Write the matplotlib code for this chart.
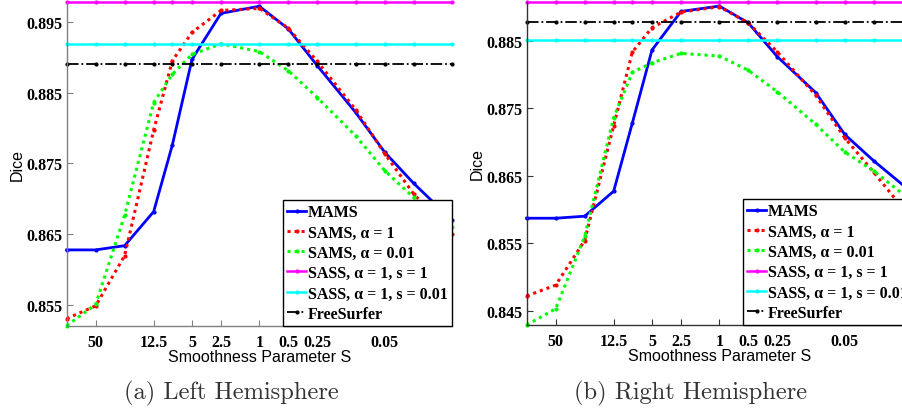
import numpy as np
import matplotlib
matplotlib.use("Agg")
import matplotlib.pyplot as plt

# smoothness values S (x axis, log, reversed)
s_vals = [100, 50, 25, 12.5, 8, 5, 2.5, 1, 0.5, 0.25, 0.1, 0.05, 0.025, 0.01]
xtick_vals = [50, 12.5, 5, 2.5, 1, 0.5, 0.25, 0.05]
xtick_labels = ["50", "12.5", "5", "2.5", "1", "0.5", "0.25", "0.05"]

# left hemisphere
left_mams = [0.8628, 0.8628, 0.8634, 0.8682, 0.8776, 0.8897, 0.8962, 0.8972,
             0.8940, 0.8888, 0.8822, 0.8766, 0.8722, 0.8670]
left_sams_1 = [0.8531, 0.8549, 0.8620, 0.8797, 0.8895, 0.8935, 0.8966, 0.8969,
               0.8941, 0.8894, 0.8826, 0.8764, 0.8707, 0.8650]
left_sams_001 = [0.8521, 0.8551, 0.8677, 0.8836, 0.8876, 0.8904, 0.8919, 0.8908,
                 0.8881, 0.8843, 0.8789, 0.8740, 0.8702, 0.8660]
left_sass_1 = 0.8978
left_sass_001 = 0.8918
left_fs = 0.8890
left_yticks = [0.855, 0.865, 0.875, 0.885, 0.895]

# right hemisphere
right_mams = [0.8587, 0.8587, 0.8590, 0.8627, 0.8728, 0.8836, 0.8893, 0.8901,
              0.8876, 0.8826, 0.8773, 0.8711, 0.8672, 0.8625]
right_sams_1 = [0.8472, 0.8488, 0.8554, 0.8724, 0.8833, 0.8869, 0.8892, 0.8900,
                0.8876, 0.8833, 0.8769, 0.8706, 0.8655, 0.8585]
right_sams_001 = [0.8429, 0.8453, 0.8560, 0.8736, 0.8803, 0.8817, 0.8831, 0.8827,
                  0.8806, 0.8774, 0.8726, 0.8685, 0.8657, 0.8612]
right_sass_1 = 0.8907
right_sass_001 = 0.8851
right_fs = 0.8877
right_yticks = [0.845, 0.855, 0.865, 0.875, 0.885]

labels = ["MAMS", "SAMS, \u03b1 = 1", "SAMS, \u03b1 = 0.01",
          "SASS, \u03b1 = 1, s = 1", "SASS, \u03b1 = 1, s = 0.01", "FreeSurfer"]

serif = "Liberation Serif"
sans = "Liberation Sans"
fs = 11.5


def draw(ax, mams, sams1, sams001, sass1, sass001, fsurf, yticks, spine_col):
    n = len(s_vals)
    ax.plot(s_vals, mams, color="#0000ff", lw=2.0, marker=".", ms=4, clip_on=False)
    ax.plot(s_vals, sams1, color="#ff0000", lw=2.2, ls=(0, (1, 1.3)), marker=".", ms=4,
            clip_on=False)
    ax.plot(s_vals, sams001, color="#00ff00", lw=2.2, ls=(0, (1, 1.3)), marker=".", ms=4,
            clip_on=False)
    ax.plot(s_vals, [sass1] * n, color="#ff00ff", lw=1.8, marker=".", ms=4, clip_on=False)
    ax.plot(s_vals, [sass001] * n, color="#00ffff", lw=1.8, marker=".", ms=4, clip_on=False)
    ax.plot(s_vals, [fsurf] * n, color="black", lw=1.3, ls="-.", marker=".", ms=4,
            clip_on=False)
    ax.set_xscale("log")
    ax.set_xlim(100, 0.01)
    lo = min(min(mams), min(sams1), min(sams001))
    hi = max(max(mams), max(sams1), max(sams001), sass1, sass001, fsurf)
    ax.set_ylim(lo, hi)
    ax.set_xticks(xtick_vals)
    ax.set_xticklabels(xtick_labels)
    ax.xaxis.set_minor_locator(matplotlib.ticker.NullLocator())
    ax.set_yticks(yticks)
    ax.set_yticklabels(["%.3f" % v for v in yticks])
    for lab in ax.get_xticklabels() + ax.get_yticklabels():
        lab.set_fontfamily(serif)
        lab.set_fontweight("bold")
        lab.set_fontsize(fs)
    ax.tick_params(direction="in", length=4, width=0.8, color=spine_col)
    ax.tick_params(axis="x", pad=6)
    ax.tick_params(axis="y", pad=3)
    ax.spines["top"].set_visible(False)
    ax.spines["right"].set_visible(False)
    for sp in ("left", "bottom"):
        ax.spines[sp].set_color(spine_col)
        ax.spines[sp].set_linewidth(1.0)
    ax.set_xlabel("Smoothness Parameter S", fontfamily=sans, fontsize=fs, labelpad=-1)
    ax.set_ylabel("Dice", fontfamily=sans, fontsize=fs, labelpad=1)
    leg = ax.legend(labels, loc="lower right", bbox_to_anchor=(1.0, 0.0),
                    borderaxespad=0, fancybox=False, framealpha=1,
                    edgecolor="black", handlelength=1.15, handletextpad=0.15,
                    labelspacing=0.27, borderpad=0.25,
                    prop={"family": serif, "weight": "bold", "size": fs})
    leg.get_frame().set_linewidth(1.0)


fig = plt.figure(figsize=(9.02, 4.10), dpi=100)
ax1 = fig.add_axes([0.0739, 0.2032, 0.4272, 0.7895])
ax2 = fig.add_axes([0.5839, 0.2049, 0.4272, 0.7878])

draw(ax1, left_mams, left_sams_1, left_sams_001, left_sass_1, left_sass_001,
     left_fs, left_yticks, "#808080")
draw(ax2, right_mams, right_sams_1, right_sams_001, right_sass_1, right_sass_001,
     right_fs, right_yticks, "#333333")

fig.text(231 / 902, 1 - 393 / 410, "(a) Left Hemisphere", fontfamily="cmr10",
         fontsize=17.6, ha="center", va="center", color="#333333")
fig.text(691 / 902, 1 - 393 / 410, "(b) Right Hemisphere", fontfamily="cmr10",
         fontsize=17.6, ha="center", va="center", color="#333333")

fig.savefig("out.png", dpi=100)
